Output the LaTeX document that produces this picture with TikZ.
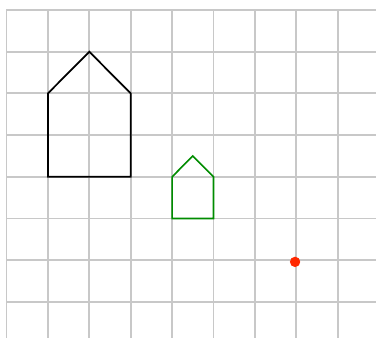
\documentclass[tikz,border=0pt]{standalone}
\begin{document}
\begin{tikzpicture}[x=1cm,y=1.00725cm,
  gridline/.style={draw={rgb,255:red,200;green,200;blue,200},line width=1.3pt},
  bighouse/.style={draw=black,line width=1.2pt},
  smallhouse/.style={draw={rgb,255:red,0;green,140;blue,0},line width=1.1pt},
  marker/.style={fill={rgb,255:red,255;green,40;blue,0}}]
\useasboundingbox[fill=white] (-0.157,0.24) rectangle (8.925,-7.866);
\foreach \i in {0,...,7} \draw[gridline] (0,-\i) -- (8.925,-\i);
\foreach \i in {0,...,8} \draw[gridline] (\i,0) -- (\i,-7.866);
\draw[bighouse] (1,-4) -- (1,-2) -- (2,-1) -- (3,-2) -- (3,-4) -- cycle;
\draw[smallhouse] (4,-5) -- (4,-4) -- (4.5,-3.5) -- (5,-4) -- (5,-5) -- cycle;
\fill[marker] (6.97,-6.04) circle (0.125cm);
\end{tikzpicture}
\end{document}
